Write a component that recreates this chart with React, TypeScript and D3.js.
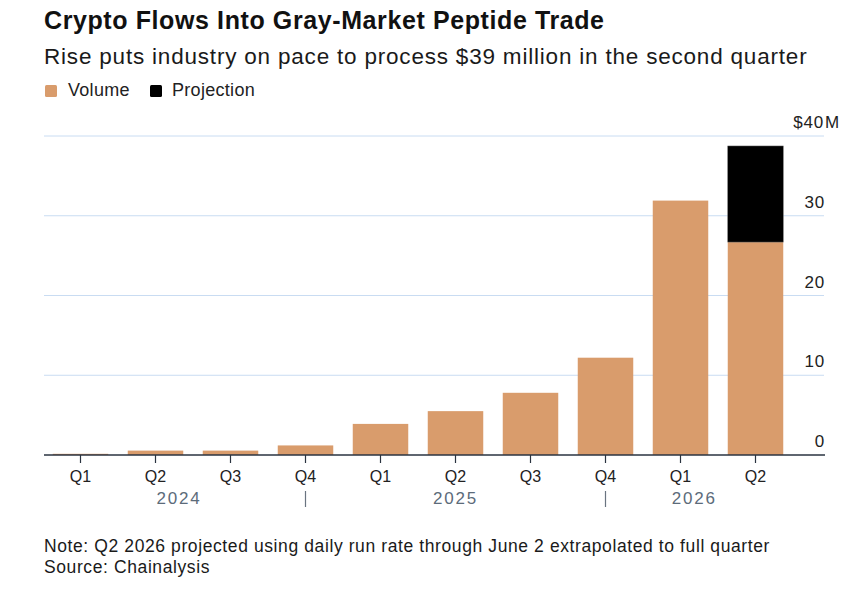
import * as React from "react"
import * as d3 from "d3"

const quarters = ["Q1", "Q2", "Q3", "Q4", "Q1", "Q2", "Q3", "Q4", "Q1", "Q2"]
const years = ["2024", "2024", "2024", "2024", "2025", "2025", "2025", "2025", "2026", "2026"]
const volume = [0.15, 0.55, 0.55, 1.2, 3.9, 5.5, 7.8, 12.2, 31.9, 26.7]
const projection = [0, 0, 0, 0, 0, 0, 0, 0, 0, 12.05]
const yTicks = [0, 10, 20, 30, 40]

const W = 860
const H = 590
const FONT = "'Liberation Sans', Arial, Helvetica, sans-serif"
const BAR = "#d99c6c"
const GRID = "#c9dcf2"

export default function App(): React.JSX.Element {
  React.useEffect(() => {
    document.body.style.margin = "0"
  }, [])

  const keys = quarters.map((q, i) => `${q} ${years[i]}`)

  const x = d3
    .scaleBand<string>()
    .domain(keys)
    .range([43, 793])
    .paddingInner(0.26)
    .paddingOuter(0.13)

  const y = d3.scaleLinear().domain([0, 40]).range([455, 136])

  const stacked = d3.stack<number>().keys(["v", "p"]).value((i, k) =>
    k === "v" ? volume[i] : projection[i]
  )(d3.range(keys.length))

  const bw = x.bandwidth()
  const center = (k: string) => (x(k) ?? 0) + bw / 2

  // separators sit under the last quarter of each year
  const sepKeys = keys.filter((k, i) => i < keys.length - 1 && years[i + 1] !== years[i])
  const yearList = Array.from(new Set(years))
  const bounds = [x(keys[0]) ?? 0, ...sepKeys.map(center), (x(keys[keys.length - 1]) ?? 0) + bw]

  return (
    <svg width={W} height={H} style={{ display: "block", background: "#fff", fontFamily: FONT }}>
      <text x={44} y={29} fontSize={25} fontWeight="bold" letterSpacing={0.6} fill="#111">
        Crypto Flows Into Gray-Market Peptide Trade
      </text>
      <text x={44} y={64} fontSize={22.5} letterSpacing={0.8} fill="#1a1a1a">
        Rise puts industry on pace to process $39 million in the second quarter
      </text>

      <g transform="translate(45,85)">
        <rect width={12} height={12} rx={1.5} fill={BAR} />
        <text x={23} y={11} fontSize={18} letterSpacing={0.3} fill="#222">Volume</text>
        <rect x={105} width={12} height={12} rx={1.5} fill="#000" />
        <text x={127} y={11} fontSize={18} letterSpacing={0.3} fill="#222">Projection</text>
      </g>

      {yTicks.map((t) => (
        <g key={t}>
          {t > 0 && <line x1={44} x2={824} y1={y(t)} y2={y(t)} stroke={GRID} strokeWidth={1} />}
          {t === 40 ? (
            <>
              <text x={824} y={y(t) - 8} fontSize={17} letterSpacing={0.8} textAnchor="end" fill="#222">${t}</text>
              <text x={825} y={y(t) - 8} fontSize={17} fill="#222">M</text>
            </>
          ) : (
            <text x={825} y={y(t) - 8} fontSize={17} letterSpacing={0.8} textAnchor="end" fill="#222">{t}</text>
          )}
        </g>
      ))}

      {stacked.map((series) => (
        <g key={series.key} fill={series.key === "v" ? BAR : "#000"}>
          {series.map((d, i) =>
            d[1] - d[0] > 0 ? (
              <rect
                key={i}
                x={x(keys[i])}
                y={y(d[1])}
                width={bw}
                height={y(d[0]) - y(d[1])}
                stroke={series.key === "p" ? "#666" : "none"}
                strokeWidth={0.5}
              />
            ) : null
          )}
        </g>
      ))}

      <line x1={44} x2={825} y1={y(0)} y2={y(0)} stroke="#2a3340" strokeWidth={1.5} />

      {keys.map((k, i) => (
        <g key={k} transform={`translate(${center(k)},0)`}>
          <line y1={y(0)} y2={y(0) + 8} stroke="#2a3340" strokeWidth={1.2} />
          <text y={482} fontSize={16} textAnchor="middle" fill="#222">{quarters[i]}</text>
        </g>
      ))}

      {sepKeys.map((k) => (
        <line key={k} x1={center(k)} x2={center(k)} y1={491} y2={507} stroke="#6a7480" strokeWidth={1.2} />
      ))}

      {yearList.map((yr, i) => (
        <text
          key={yr}
          x={(bounds[i] + bounds[i + 1]) / 2}
          y={504}
          fontSize={17}
          letterSpacing={1.8}
          textAnchor="middle"
          fill="#5c6b7a"
        >
          {yr}
        </text>
      ))}

      <text x={44} y={552} fontSize={17.5} letterSpacing={0.6} fill="#1a1a1a">
        Note: Q2 2026 projected using daily run rate through June 2 extrapolated to full quarter
      </text>
      <text x={44} y={573} fontSize={17.5} letterSpacing={0.6} fill="#1a1a1a">
        Source: Chainalysis
      </text>
    </svg>
  )
}
